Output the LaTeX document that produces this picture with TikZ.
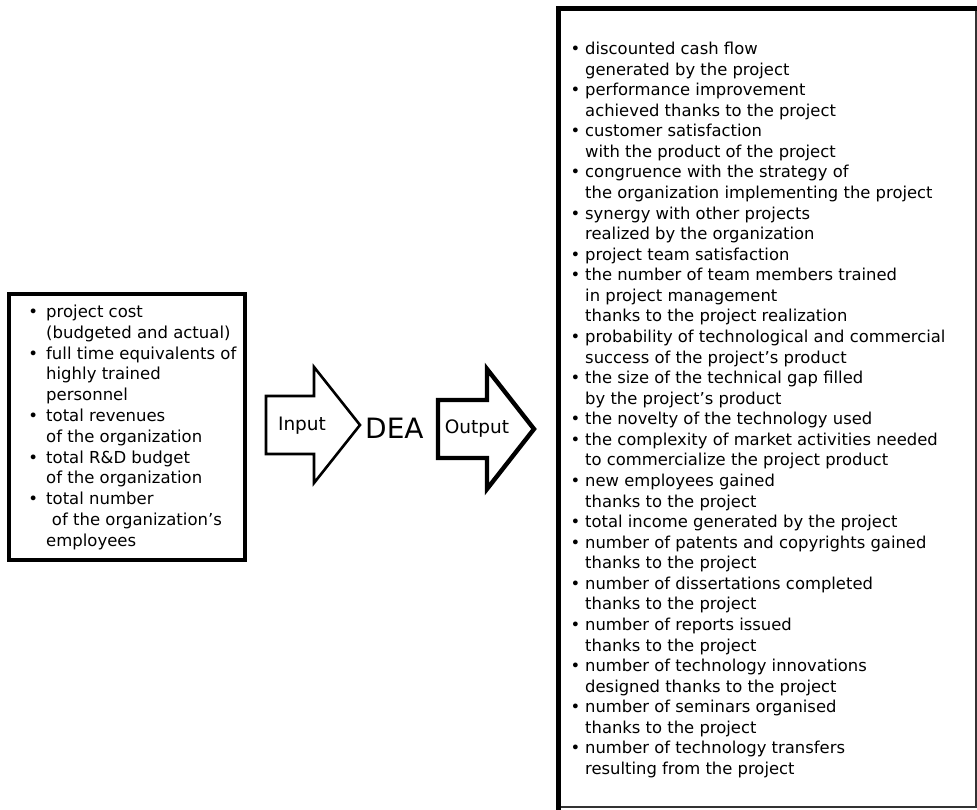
\documentclass[tikz,border=0pt]{standalone}
\usepackage{fontspec}
\setmainfont{DejaVu Sans}
\newcommand{\rb}{\llap{•\hspace{5pt}}}
\newcommand{\lb}{\llap{•\hspace{8pt}}}
\tikzset{
  boxline/.style={line width=4pt, line join=miter},
  inarrow/.style={draw, line width=2.6pt, line join=miter, fill=white},
  outarrow/.style={draw, line width=4.4pt, line join=miter, fill=white},
  listtext/.style={inner sep=0pt, anchor=base west, align=left},
  arrowlabel/.style={inner sep=0pt, font=\fontsize{18.5}{20}\selectfont}
}
\begin{document}
\begin{tikzpicture}[x=1pt,y=-1pt]
\useasboundingbox (0,0) rectangle (977,809);
% left box
\draw[boxline] (9,294) rectangle (245,560);
\node[listtext] (inlist) at (46,317.5) {\fontsize{16.5}{20.8}\selectfont
\begin{tabular}[t]{@{}l@{}}
\lb project cost\\
(budgeted and actual)\\
\lb full time equivalents of\\
highly trained\\
personnel\\
\lb total revenues\\
of the organization\\
\lb total R\&D budget\\
of the organization\\
\lb total number\\
\hspace{0.35em}of the organization’s\\
employees
\end{tabular}};
% input arrow
\draw[inarrow] (266,396) coordinate (ia) -- (314,396) -- (314,367) -- (360,425) coordinate (itip) -- (314,483) -- (314,454) -- (266,454) -- cycle;
\node[arrowlabel] (input) at (302,426) {Input};
% DEA
\node[inner sep=0pt, anchor=west, font=\fontsize{28}{30}\selectfont] (dea) at (365,428) {DEA};
% output arrow
\draw[outarrow] (438,400) coordinate (oa) -- (487,400) -- (487,369) -- (534,429) coordinate (otip) -- (487,489) -- (487,458) -- (438,458) -- cycle;
\node[arrowlabel] (output) at (477,429) {Output};
% right box
\draw[line width=1.2pt, draw=black!80] (558.5,8.5) rectangle (976,807);
\draw[line width=5pt, line cap=rect] (558.5,807) -- (558.5,8.5) -- (976,8.5);
\node[listtext] (outlist) at (585,54.5) {\fontsize{16.4}{20.57}\selectfont
\begin{tabular}[t]{@{}l@{}}
\rb discounted cash flow\\
generated by the project\\
\rb performance improvement\\
achieved thanks to the project\\
\rb customer satisfaction\\
with the product of the project\\
\rb congruence with the strategy of\\
the organization implementing the project\\
\rb synergy with other projects\\
realized by the organization\\
\rb project team satisfaction\\
\rb the number of team members trained\\
in project management\\
thanks to the project realization\\
\rb probability of technological and commercial\\
success of the project’s product\\
\rb the size of the technical gap filled\\
by the project’s product\\
\rb the novelty of the technology used\\
\rb the complexity of market activities needed\\
to commercialize the project product\\
\rb new employees gained\\
thanks to the project\\
\rb total income generated by the project\\
\rb number of patents and copyrights gained\\
thanks to the project\\
\rb number of dissertations completed\\
thanks to the project\\
\rb number of reports issued\\
thanks to the project\\
\rb number of technology innovations\\
designed thanks to the project\\
\rb number of seminars organised\\
thanks to the project\\
\rb number of technology transfers\\
resulting from the project
\end{tabular}};
\end{tikzpicture}
\end{document}
